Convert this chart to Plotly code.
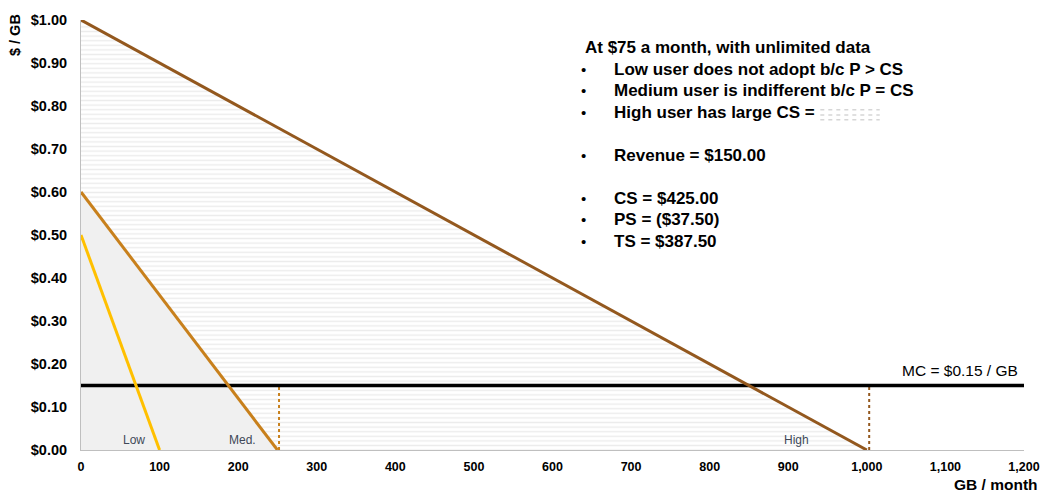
import plotly.graph_objects as go

# ---- data ----
users = ["Low", "Med.", "High"]
intercept_price = [0.50, 0.60, 1.00]   # $/GB at 0 GB
max_quantity = [100, 250, 1000]        # GB/month at $0
line_colors = ["#FFC000", "#C8801C", "#93581E"]
mc_price = 0.15
x_range = [0, 1200]
y_ticks = [0.0, 0.1, 0.2, 0.3, 0.4, 0.5, 0.6, 0.7, 0.8, 0.9, 1.0]
x_ticks = [0, 100, 200, 300, 400, 500, 600, 700, 800, 900, 1000, 1100, 1200]
label_pos = [(68, 0.024), (206, 0.024), (911, 0.024)]
dotted_x = [252, 1003]

text_lines = [
    ("At $75 a month, with unlimited data", False, 0.935),
    ("Low user does not adopt b/c P > CS", True, 0.886),
    ("Medium user is indifferent b/c P = CS", True, 0.836),
    ("High user has large CS = ", True, 0.786),
    ("Revenue = $150.00", True, 0.686),
    ("CS = $425.00", True, 0.586),
    ("PS = ($37.50)", True, 0.536),
    ("TS = $387.50", True, 0.486),
]

FONT = "Liberation Sans, Arial, sans-serif"
fig = go.Figure()

# High CS area (patterned)
fig.add_trace(go.Scatter(
    x=[0, max_quantity[2]], y=[intercept_price[2], 0], mode="lines",
    line=dict(width=0), fill="tozeroy", fillcolor="rgba(0,0,0,0)",
    fillpattern=dict(shape="-", fgcolor="#d9d9d9", bgcolor="white", size=4.6, solidity=0.3),
    hoverinfo="skip", showlegend=False))
# Medium area (solid light gray)
fig.add_trace(go.Scatter(
    x=[0, max_quantity[1]], y=[intercept_price[1], 0], mode="lines",
    line=dict(width=0), fill="tozeroy", fillcolor="#f0f0f0",
    hoverinfo="skip", showlegend=False))

# dotted verticals
for xv, c in zip(dotted_x, [line_colors[1], line_colors[2]]):
    fig.add_trace(go.Scatter(x=[xv, xv], y=[0, mc_price], mode="lines",
                             line=dict(color=c, width=2, dash="dot"),
                             hoverinfo="skip", showlegend=False))

# MC line
fig.add_trace(go.Scatter(x=x_range, y=[mc_price, mc_price], mode="lines",
                         line=dict(color="black", width=3.5),
                         hoverinfo="skip", showlegend=False))

# demand lines
for name, p0, q0, c in zip(users, intercept_price, max_quantity, line_colors):
    fig.add_trace(go.Scatter(x=[0, q0], y=[p0, 0], mode="lines", name=name,
                             line=dict(color=c, width=3), showlegend=False))

annotations = []
for name, (lx, ly) in zip(users, label_pos):
    annotations.append(dict(x=lx, y=ly, xref="x", yref="y", text=name, showarrow=False,
                            font=dict(family=FONT, size=12, color="#404858")))

annotations.append(dict(x=1195, y=0.186, xref="x", yref="y", text="MC = $0.15 / GB",
                        showarrow=False, xanchor="right", yanchor="middle",
                        font=dict(family=FONT, size=15.5, color="black")))

for txt, bullet, yv in text_lines:
    if bullet:
        annotations.append(dict(x=0.5334, y=yv, xref="paper", yref="y", text="•",
                                showarrow=False, xanchor="center", yanchor="middle",
                                font=dict(family=FONT, size=15, color="black")))
        annotations.append(dict(x=0.5631, y=yv, xref="paper", yref="y", text="<b>%s</b>" % txt,
                                showarrow=False, xanchor="left", yanchor="middle",
                                font=dict(family=FONT, size=17, color="black")))
    else:
        annotations.append(dict(x=0.5325, y=yv, xref="paper", yref="y", text="<b>%s</b>" % txt,
                                showarrow=False, xanchor="left", yanchor="middle",
                                font=dict(family=FONT, size=17, color="black")))

# axis titles
annotations.append(dict(x=-0.070, y=0.965, xref="paper", yref="paper", text="<b>$ / GB</b>",
                        textangle=-90, showarrow=False, xanchor="center", yanchor="middle",
                        font=dict(family=FONT, size=14.5, color="black")))
annotations.append(dict(x=1.017, y=-0.081, xref="paper", yref="paper", text="<b>GB / month</b>",
                        showarrow=False, xanchor="right", yanchor="middle",
                        font=dict(family=FONT, size=15.5, color="black")))

# swatch for "High user has large CS ="
shapes = []
for yy in [0.791, 0.779, 0.768]:
    shapes.append(dict(type="line", xref="paper", yref="y", x0=0.784, x1=0.847, y0=yy, y1=yy,
                       line=dict(color="#d6d6d6", width=1.5, dash="4px,4px")))

fig.update_layout(
    width=1043, height=493,
    margin=dict(l=81, r=19, t=20, b=43),
    plot_bgcolor="white", paper_bgcolor="white",
    annotations=annotations, shapes=shapes,
    xaxis=dict(range=x_range, tickvals=x_ticks, ticktext=[f"{v:,}" for v in x_ticks],
               showgrid=False, zeroline=False, showline=True, linecolor="#bfbfbf", linewidth=1,
               ticks="", automargin=False, ticklabelstandoff=5,
               tickfont=dict(family=FONT, size=12.5, color="black", weight="bold")),
    yaxis=dict(range=[0, 1.0], tickvals=y_ticks, ticktext=[f"${v:.2f}" for v in y_ticks],
               showgrid=False, zeroline=False, showline=True, linecolor="#bfbfbf", linewidth=1,
               ticks="", automargin=False, ticklabelstandoff=10,
               tickfont=dict(family=FONT, size=14.5, color="black", weight="bold")),
)

fig.write_html("out.html")
